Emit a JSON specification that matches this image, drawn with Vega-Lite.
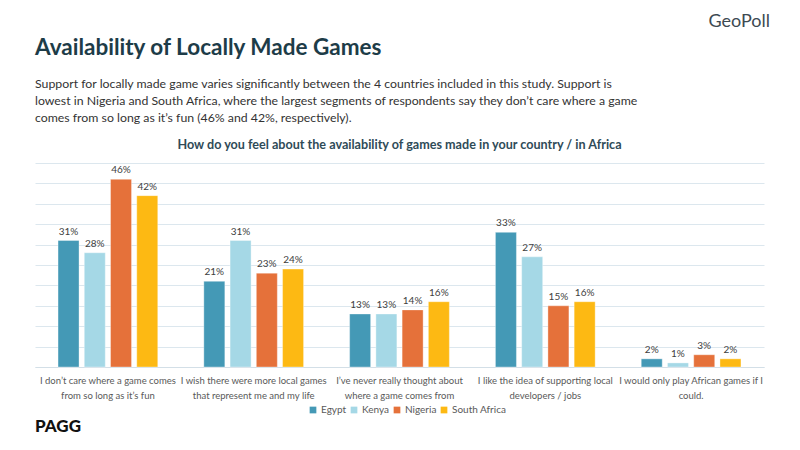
{
  "$schema": "https://vega.github.io/schema/vega-lite/v6.json",
  "background": "white",
  "padding": {"left": 35, "top": 12, "right": 35, "bottom": 0},
  "config": {"font": "Lato", "view": {"stroke": null}, "concat": {"spacing": 0}},
  "title": {"text": "PAGG", "orient": "bottom", "anchor": "start", "fontSize": 17, "fontWeight": 900, "color": "#111111", "offset": 4},
  "vconcat": [
    {
      "title": {"text": "GeoPoll", "anchor": "end", "dx": 6, "fontSize": 18, "color": "#3d4a52", "fontWeight": "normal", "offset": 6},
      "vconcat": [
        {
          "title": {
            "text": "Availability of Locally Made Games",
            "subtitle": [
              "Support for locally made game varies significantly between the 4 countries included in this study. Support is",
              "lowest in Nigeria and South Africa, where the largest segments of respondents say they don’t care where a game",
              "comes from so long as it’s fun (46% and 42%, respectively)."
            ],
            "anchor": "start",
            "font": "Lato",
            "fontSize": 22.5,
            "color": "#1d3c48",
            "fontWeight": "bold",
            "subtitleFont": "Lato",
            "subtitleFontSize": 12.3,
            "subtitleColor": "#333333",
            "subtitleLineHeight": 17,
            "subtitlePadding": 19,
            "offset": 15
          },
          "vconcat": [
            {
              "title": {"text": "How do you feel about the availability of games made in your country / in Africa", "fontSize": 12.6, "color": "#2f4b58", "fontWeight": "bold", "anchor": "middle", "offset": 11},
              "width": 729,
              "height": 204,
              "data": {
                "values": [
                  {"statement": "I don’t care where a game comes from so long as it’s fun", "country": "Egypt", "pct": 0.31},
                  {"statement": "I don’t care where a game comes from so long as it’s fun", "country": "Kenya", "pct": 0.28},
                  {"statement": "I don’t care where a game comes from so long as it’s fun", "country": "Nigeria", "pct": 0.46},
                  {"statement": "I don’t care where a game comes from so long as it’s fun", "country": "South Africa", "pct": 0.42},
                  {"statement": "I wish there were more local games that represent me and my life", "country": "Egypt", "pct": 0.21},
                  {"statement": "I wish there were more local games that represent me and my life", "country": "Kenya", "pct": 0.31},
                  {"statement": "I wish there were more local games that represent me and my life", "country": "Nigeria", "pct": 0.23},
                  {"statement": "I wish there were more local games that represent me and my life", "country": "South Africa", "pct": 0.24},
                  {"statement": "I’ve never really thought about where a game comes from", "country": "Egypt", "pct": 0.13},
                  {"statement": "I’ve never really thought about where a game comes from", "country": "Kenya", "pct": 0.13},
                  {"statement": "I’ve never really thought about where a game comes from", "country": "Nigeria", "pct": 0.14},
                  {"statement": "I’ve never really thought about where a game comes from", "country": "South Africa", "pct": 0.16},
                  {"statement": "I like the idea of supporting local developers / jobs", "country": "Egypt", "pct": 0.33},
                  {"statement": "I like the idea of supporting local developers / jobs", "country": "Kenya", "pct": 0.27},
                  {"statement": "I like the idea of supporting local developers / jobs", "country": "Nigeria", "pct": 0.15},
                  {"statement": "I like the idea of supporting local developers / jobs", "country": "South Africa", "pct": 0.16},
                  {"statement": "I would only play African games if I could.", "country": "Egypt", "pct": 0.02},
                  {"statement": "I would only play African games if I could.", "country": "Kenya", "pct": 0.01},
                  {"statement": "I would only play African games if I could.", "country": "Nigeria", "pct": 0.03},
                  {"statement": "I would only play African games if I could.", "country": "South Africa", "pct": 0.02}
                ]
              },
              "encoding": {
                "x": {
                  "field": "statement",
                  "type": "nominal",
                  "sort": null,
                  "scale": {"paddingInner": 0.28, "paddingOuter": 0.14},
                  "axis": {
                    "title": null,
                    "labelAngle": 0,
                    "labelPadding": 8,
                    "ticks": false,
                    "domainColor": "#d3dfe7",
                    "labelColor": "#595959",
                    "labelFont": "Lato",
                    "labelFontSize": 9.5,
                    "labelLineHeight": 15,
                    "labelLimit": 200,
                    "labelExpr": "datum.value == 'I don’t care where a game comes from so long as it’s fun' ? ['I don’t care where a game comes', 'from so long as it’s fun'] : datum.value == 'I wish there were more local games that represent me and my life' ? ['I wish there were more local games', 'that represent me and my life'] : datum.value == 'I’ve never really thought about where a game comes from' ? ['I’ve never really thought about', 'where a game comes from'] : datum.value == 'I like the idea of supporting local developers / jobs' ? ['I like the idea of supporting local', 'developers / jobs'] : ['I would only play African games if I', 'could.']"
                  }
                },
                "xOffset": {"field": "country", "type": "nominal", "sort": ["Egypt", "Kenya", "Nigeria", "South Africa"], "scale": {"paddingInner": 0.2, "paddingOuter": 0.1}},
                "y": {
                  "field": "pct",
                  "type": "quantitative",
                  "scale": {"domain": [0, 0.5]},
                  "axis": {"values": [0, 0.05, 0.1, 0.15, 0.2, 0.25, 0.3, 0.35, 0.4, 0.45, 0.5], "labels": false, "ticks": false, "domain": false, "title": null, "gridColor": "#dce7ee"}
                }
              },
              "layer": [
                {
                  "mark": {"type": "bar", "stroke": "#ffffff", "strokeOpacity": 0.35, "strokeWidth": 1},
                  "encoding": {
                    "color": {
                      "field": "country",
                      "type": "nominal",
                      "sort": ["Egypt", "Kenya", "Nigeria", "South Africa"],
                      "scale": {"domain": ["Egypt", "Kenya", "Nigeria", "South Africa"], "range": ["#4499b6", "#a5d8e6", "#e5713a", "#fdb913"]},
                      "legend": {"orient": "none", "legendX": 273, "legendY": 242, "direction": "horizontal", "title": null, "symbolType": "square", "symbolSize": 45, "labelFont": "Lato", "labelFontSize": 10, "labelColor": "#595959", "columnPadding": 2, "labelOffset": 3, "symbolStrokeWidth": 0}
                    }
                  }
                },
                {
                  "mark": {"type": "text", "dy": -9, "fontSize": 10, "color": "#404040", "font": "Lato"},
                  "encoding": {"text": {"field": "pct", "type": "quantitative", "format": ".0%"}}
                }
              ]
            }
          ]
        }
      ]
    }
  ]
}
